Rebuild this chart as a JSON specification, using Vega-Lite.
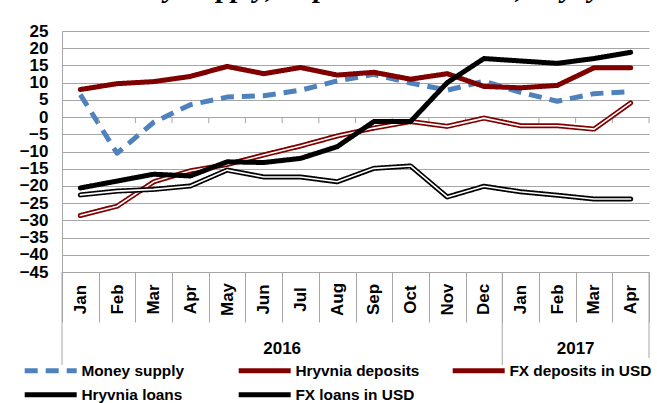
{
  "$schema": "https://vega.github.io/schema/vega-lite/v6.json",
  "width": 587,
  "height": 241,
  "autosize": {"type": "none"},
  "padding": {"left": 62, "top": 31, "right": 8, "bottom": 131},
  "background": "white",
  "title": {"text": "Money Supply, Deposits and Loans, % yoy", "font": "Liberation Serif", "fontSize": 29, "fontStyle": "italic", "fontWeight": "bold", "color": "black", "anchor": "middle", "frame": "group", "dx": -7, "offset": 19},
  "config": {"view": {"stroke": null}, "font": "Liberation Sans",
    "legend": {"title": null, "orient": "none", "legendX": -19, "legendY": 332, "direction": "horizontal", "columns": 3, "gridAlign": "all", "columnPadding": 4, "rowPadding": 3, "symbolType": "M-5.2,0H5.2", "symbolSize": 100, "labelFont": "Liberation Sans", "labelFontSize": 15.4, "labelFontWeight": "bold", "labelColor": "black", "labelOffset": 23, "padding": 0}},
  "datasets": {"rates": [
    {"month": "2016-Jan", "series": "Money supply", "value": 6.5},
    {"month": "2016-Feb", "series": "Money supply", "value": -10.5},
    {"month": "2016-Mar", "series": "Money supply", "value": -1.5},
    {"month": "2016-Apr", "series": "Money supply", "value": 3.6},
    {"month": "2016-May", "series": "Money supply", "value": 5.8},
    {"month": "2016-Jun", "series": "Money supply", "value": 6.2},
    {"month": "2016-Jul", "series": "Money supply", "value": 7.8},
    {"month": "2016-Aug", "series": "Money supply", "value": 10.5},
    {"month": "2016-Sep", "series": "Money supply", "value": 12.4},
    {"month": "2016-Oct", "series": "Money supply", "value": 9.9},
    {"month": "2016-Nov", "series": "Money supply", "value": 7.8},
    {"month": "2016-Dec", "series": "Money supply", "value": 10.4},
    {"month": "2017-Jan", "series": "Money supply", "value": 7.2},
    {"month": "2017-Feb", "series": "Money supply", "value": 4.6},
    {"month": "2017-Mar", "series": "Money supply", "value": 6.8},
    {"month": "2017-Apr", "series": "Money supply", "value": 7.4},
    {"month": "2016-Jan", "series": "Hryvnia deposits", "value": 8.0},
    {"month": "2016-Feb", "series": "Hryvnia deposits", "value": 9.7},
    {"month": "2016-Mar", "series": "Hryvnia deposits", "value": 10.3},
    {"month": "2016-Apr", "series": "Hryvnia deposits", "value": 11.8},
    {"month": "2016-May", "series": "Hryvnia deposits", "value": 14.7},
    {"month": "2016-Jun", "series": "Hryvnia deposits", "value": 12.6},
    {"month": "2016-Jul", "series": "Hryvnia deposits", "value": 14.4},
    {"month": "2016-Aug", "series": "Hryvnia deposits", "value": 12.2},
    {"month": "2016-Sep", "series": "Hryvnia deposits", "value": 13.0},
    {"month": "2016-Oct", "series": "Hryvnia deposits", "value": 11.0},
    {"month": "2016-Nov", "series": "Hryvnia deposits", "value": 12.6},
    {"month": "2016-Dec", "series": "Hryvnia deposits", "value": 8.9},
    {"month": "2017-Jan", "series": "Hryvnia deposits", "value": 8.5},
    {"month": "2017-Feb", "series": "Hryvnia deposits", "value": 9.2},
    {"month": "2017-Mar", "series": "Hryvnia deposits", "value": 14.3},
    {"month": "2017-Apr", "series": "Hryvnia deposits", "value": 14.3},
    {"month": "2016-Jan", "series": "FX deposits in USD", "value": -28.6},
    {"month": "2016-Feb", "series": "FX deposits in USD", "value": -25.9},
    {"month": "2016-Mar", "series": "FX deposits in USD", "value": -18.8},
    {"month": "2016-Apr", "series": "FX deposits in USD", "value": -15.6},
    {"month": "2016-May", "series": "FX deposits in USD", "value": -13.8},
    {"month": "2016-Jun", "series": "FX deposits in USD", "value": -11.0},
    {"month": "2016-Jul", "series": "FX deposits in USD", "value": -8.4},
    {"month": "2016-Aug", "series": "FX deposits in USD", "value": -5.5},
    {"month": "2016-Sep", "series": "FX deposits in USD", "value": -3.2},
    {"month": "2016-Oct", "series": "FX deposits in USD", "value": -1.3},
    {"month": "2016-Nov", "series": "FX deposits in USD", "value": -2.7},
    {"month": "2016-Dec", "series": "FX deposits in USD", "value": -0.3},
    {"month": "2017-Jan", "series": "FX deposits in USD", "value": -2.5},
    {"month": "2017-Feb", "series": "FX deposits in USD", "value": -2.5},
    {"month": "2017-Mar", "series": "FX deposits in USD", "value": -3.5},
    {"month": "2017-Apr", "series": "FX deposits in USD", "value": 4.1},
    {"month": "2016-Jan", "series": "Hryvnia loans", "value": -20.6},
    {"month": "2016-Feb", "series": "Hryvnia loans", "value": -18.6},
    {"month": "2016-Mar", "series": "Hryvnia loans", "value": -16.6},
    {"month": "2016-Apr", "series": "Hryvnia loans", "value": -17.1},
    {"month": "2016-May", "series": "Hryvnia loans", "value": -13.0},
    {"month": "2016-Jun", "series": "Hryvnia loans", "value": -13.2},
    {"month": "2016-Jul", "series": "Hryvnia loans", "value": -12.0},
    {"month": "2016-Aug", "series": "Hryvnia loans", "value": -8.6},
    {"month": "2016-Sep", "series": "Hryvnia loans", "value": -1.3},
    {"month": "2016-Oct", "series": "Hryvnia loans", "value": -1.3},
    {"month": "2016-Nov", "series": "Hryvnia loans", "value": 10.0},
    {"month": "2016-Dec", "series": "Hryvnia loans", "value": 17.0},
    {"month": "2017-Jan", "series": "Hryvnia loans", "value": 16.3},
    {"month": "2017-Feb", "series": "Hryvnia loans", "value": 15.6},
    {"month": "2017-Mar", "series": "Hryvnia loans", "value": 17.0},
    {"month": "2017-Apr", "series": "Hryvnia loans", "value": 18.8},
    {"month": "2016-Jan", "series": "FX loans in USD", "value": -22.6},
    {"month": "2016-Feb", "series": "FX loans in USD", "value": -21.5},
    {"month": "2016-Mar", "series": "FX loans in USD", "value": -21.0},
    {"month": "2016-Apr", "series": "FX loans in USD", "value": -20.0},
    {"month": "2016-May", "series": "FX loans in USD", "value": -15.4},
    {"month": "2016-Jun", "series": "FX loans in USD", "value": -17.4},
    {"month": "2016-Jul", "series": "FX loans in USD", "value": -17.4},
    {"month": "2016-Aug", "series": "FX loans in USD", "value": -18.8},
    {"month": "2016-Sep", "series": "FX loans in USD", "value": -14.9},
    {"month": "2016-Oct", "series": "FX loans in USD", "value": -14.2},
    {"month": "2016-Nov", "series": "FX loans in USD", "value": -23.2},
    {"month": "2016-Dec", "series": "FX loans in USD", "value": -20.1},
    {"month": "2017-Jan", "series": "FX loans in USD", "value": -21.7},
    {"month": "2017-Feb", "series": "FX loans in USD", "value": -22.7},
    {"month": "2017-Mar", "series": "FX loans in USD", "value": -23.8},
    {"month": "2017-Apr", "series": "FX loans in USD", "value": -23.8}
  ]},
  "layer": [
    {
      "data": {"name": "rates"},
      "transform": [{"filter": "datum.series === 'Money supply'"}],
      "mark": {"type": "line", "strokeCap": "butt", "strokeJoin": "round"},
      "encoding": {
        "x": {"field": "month", "type": "nominal", "bandPosition": 0.5,
          "scale": {"type": "band", "paddingInner": 0, "paddingOuter": 0, "domain": ["2016-Jan","2016-Feb","2016-Mar","2016-Apr","2016-May","2016-Jun","2016-Jul","2016-Aug","2016-Sep","2016-Oct","2016-Nov","2016-Dec","2017-Jan","2017-Feb","2017-Mar","2017-Apr"]},
          "axis": {"title": null, "labelExpr": "split(datum.value, '-')[1]", "labelAngle": 270, "labelAlign": "center", "labelBaseline": "middle", "tickBand": "extent", "tickSize": 50, "tickColor": "#A6A6A6", "domainColor": "#A6A6A6", "labelPadding": -23, "labelFont": "Liberation Sans", "labelFontSize": 17, "labelFontWeight": "bold", "labelColor": "black", "labelOverlap": false, "labelFlush": false, "grid": false}},
        "y": {"field": "value", "type": "quantitative",
          "scale": {"domain": [-45, 25], "nice": false, "zero": false},
          "axis": {"title": null, "values": [-45,-40,-35,-30,-25,-20,-15,-10,-5,0,5,10,15,20,25], "tickCount": 15, "grid": true, "gridColor": "#A6A6A6", "domainColor": "#A6A6A6", "ticks": false, "labelFont": "Liberation Sans", "labelFontSize": 17, "labelFontWeight": "bold", "labelColor": "black", "labelPadding": 14, "labelOverlap": false, "labelFlush": false}},
        "color": {"field": "series", "type": "nominal", "sort": null,
          "scale": {"domain": ["Money supply","Hryvnia deposits","FX deposits in USD","Hryvnia loans","FX loans in USD"], "range": ["#4F81BD","#800000","#800000","#000000","#000000"]}},
        "strokeDash": {"field": "series", "type": "nominal",
          "scale": {"domain": ["Money supply","Hryvnia deposits","FX deposits in USD","Hryvnia loans","FX loans in USD"], "range": [[13,8],[1,0],[1,0],[1,0],[1,0]]}},
        "strokeWidth": {"field": "series", "type": "ordinal",
          "scale": {"domain": ["Money supply","Hryvnia deposits","FX deposits in USD","Hryvnia loans","FX loans in USD"], "range": [5,5,4.5,6,4.5]}}
      }
    },
    {
      "data": {"name": "rates"},
      "transform": [{"filter": "datum.series === 'Money supply'"}],
      "mark": {"type": "rule", "color": "#A6A6A6", "strokeWidth": 1},
      "encoding": {
        "x": {"field": "month", "type": "nominal", "bandPosition": 1},
        "y": {"datum": 0, "type": "quantitative"},
        "y2": {"datum": -1.75}
      }
    },
    {
      "data": {"values": [{"month": "2016-Jan"}, {"month": "2017-Jan"}]},
      "mark": {"type": "rule", "color": "#A6A6A6", "strokeWidth": 1},
      "encoding": {
        "x": {"field": "month", "type": "nominal", "bandPosition": 0},
        "y": {"datum": -45, "type": "quantitative"},
        "y2": {"datum": -72}
      }
    },
    {
      "data": {"values": [{"month": "2017-Apr"}]},
      "mark": {"type": "rule", "color": "#A6A6A6", "strokeWidth": 1},
      "encoding": {
        "x": {"field": "month", "type": "nominal", "bandPosition": 1},
        "y": {"datum": -45, "type": "quantitative"},
        "y2": {"datum": -70}
      }
    },
    {
      "data": {"values": [{"year": "2016", "month": "2016-Jun"}, {"year": "2017", "month": "2017-Feb"}]},
      "mark": {"type": "text", "font": "Liberation Sans", "fontSize": 17, "fontWeight": "bold", "color": "black", "baseline": "middle", "align": "center"},
      "encoding": {
        "x": {"field": "month", "type": "nominal", "bandPosition": 1},
        "y": {"datum": -67.3, "type": "quantitative"},
        "text": {"field": "year"}
      }
    },
    {
      "data": {"name": "rates"},
      "transform": [{"filter": "datum.series === 'Hryvnia deposits' || datum.series === 'FX deposits in USD'"}],
      "mark": {"type": "line", "strokeCap": "round", "strokeJoin": "round"},
      "encoding": {
        "x": {"field": "month", "type": "nominal", "bandPosition": 0.5},
        "y": {"field": "value", "type": "quantitative"},
        "color": {"field": "series", "type": "nominal", "sort": null,
          "scale": {"domain": ["Money supply","Hryvnia deposits","FX deposits in USD","Hryvnia loans","FX loans in USD"], "range": ["#4F81BD","#800000","#800000","#000000","#000000"]}},
        "strokeDash": {"field": "series", "type": "nominal",
          "scale": {"domain": ["Money supply","Hryvnia deposits","FX deposits in USD","Hryvnia loans","FX loans in USD"], "range": [[13,8],[1,0],[1,0],[1,0],[1,0]]}},
        "strokeWidth": {"field": "series", "type": "ordinal",
          "scale": {"domain": ["Money supply","Hryvnia deposits","FX deposits in USD","Hryvnia loans","FX loans in USD"], "range": [5,5,4.5,6,4.5]}}
      }
    },
    {
      "data": {"name": "rates"},
      "transform": [{"filter": "datum.series === 'FX deposits in USD'"}],
      "mark": {"type": "line", "color": "white", "strokeWidth": 1.6, "strokeCap": "round", "strokeJoin": "round"},
      "encoding": {
        "x": {"field": "month", "type": "nominal", "bandPosition": 0.5},
        "y": {"field": "value", "type": "quantitative"}
      }
    },
    {
      "data": {"name": "rates"},
      "transform": [{"filter": "datum.series === 'Hryvnia loans' || datum.series === 'FX loans in USD'"}],
      "mark": {"type": "line", "strokeCap": "round", "strokeJoin": "round"},
      "encoding": {
        "x": {"field": "month", "type": "nominal", "bandPosition": 0.5},
        "y": {"field": "value", "type": "quantitative"},
        "color": {"field": "series", "type": "nominal", "sort": null,
          "scale": {"domain": ["Money supply","Hryvnia deposits","FX deposits in USD","Hryvnia loans","FX loans in USD"], "range": ["#4F81BD","#800000","#800000","#000000","#000000"]}},
        "strokeDash": {"field": "series", "type": "nominal",
          "scale": {"domain": ["Money supply","Hryvnia deposits","FX deposits in USD","Hryvnia loans","FX loans in USD"], "range": [[13,8],[1,0],[1,0],[1,0],[1,0]]}},
        "strokeWidth": {"field": "series", "type": "ordinal",
          "scale": {"domain": ["Money supply","Hryvnia deposits","FX deposits in USD","Hryvnia loans","FX loans in USD"], "range": [5,5,4.5,6,4.5]}}
      }
    },
    {
      "data": {"name": "rates"},
      "transform": [{"filter": "datum.series === 'FX loans in USD'"}],
      "mark": {"type": "line", "color": "white", "strokeWidth": 1.6, "strokeCap": "round", "strokeJoin": "round"},
      "encoding": {
        "x": {"field": "month", "type": "nominal", "bandPosition": 0.5},
        "y": {"field": "value", "type": "quantitative"}
      }
    }
  ]
}
